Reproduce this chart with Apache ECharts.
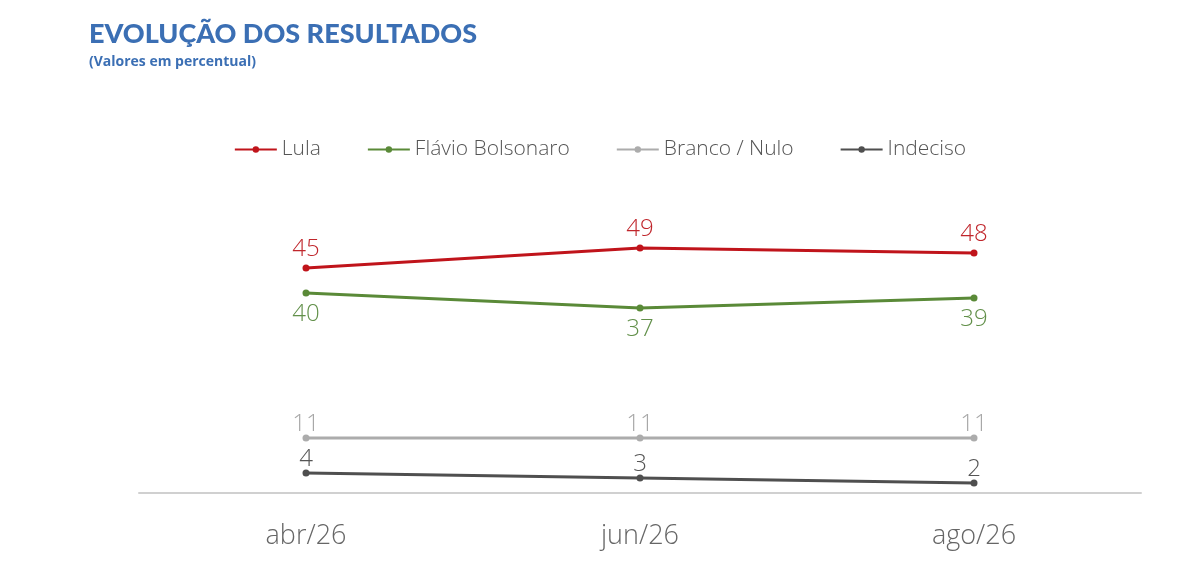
<!DOCTYPE html>
<html>
<head>
<meta charset="utf-8">
<script src="https://cdn.jsdelivr.net/npm/echarts@6/dist/echarts.min.js"></script>
<style>
  html, body { margin: 0; padding: 0; background: #fff; }
  #chart { width: 1200px; height: 587px; }
</style>
</head>
<body>
<div id="chart"></div>
<script>
// dados
const meses = ['abr/26', 'jun/26', 'ago/26'];
const lula = [45, 49, 48];
const flavio = [40, 37, 39];
const brancoNulo = [11, 11, 11];
const indeciso = [4, 3, 2];

const chart = echarts.init(document.getElementById('chart'));

function serie(name, data, color, labelColor, pos, dist) {
  return {
    name: name,
    type: 'line',
    data: data,
    symbol: 'circle',
    symbolSize: 7,
    lineStyle: { width: 3, color: color },
    itemStyle: { color: color },
    label: {
      show: true,
      position: pos,
      distance: dist,
      color: labelColor,
      fontSize: 24,
      fontFamily: 'Open Sans',
      fontWeight: 300
    }
  };
}

const option = {
  animation: false,
  backgroundColor: '#fff',
  title: {
    text: 'EVOLUÇÃO DOS RESULTADOS',
    subtext: '(Valores em percentual)',
    left: 84,
    top: 16,
    itemGap: 7,
    textStyle: { color: '#3b6fb4', fontSize: 27, fontWeight: 900, fontFamily: 'Lato' },
    subtextStyle: { color: '#3b6fb4', fontSize: 14, fontWeight: 'bold', fontFamily: 'Open Sans' }
  },
  legend: {
    top: 134,
    left: 'center',
    itemWidth: 42,
    itemHeight: 8,
    itemGap: 46,
    textStyle: { color: '#555', fontSize: 21, fontFamily: 'Open Sans', fontWeight: 300 },
    data: ['Lula', 'Flávio Bolsonaro', 'Branco / Nulo', 'Indeciso']
  },
  grid: { left: 139, right: 59, top: 193, bottom: 94 },
  xAxis: {
    type: 'category',
    data: meses,
    boundaryGap: true,
    axisLine: { lineStyle: { color: '#d0d0d0', width: 2 } },
    axisTick: { show: false },
    axisLabel: { color: '#666', fontSize: 27, fontFamily: 'Open Sans', fontWeight: 300, margin: 30 }
  },
  yAxis: {
    type: 'value',
    min: 0,
    max: 60,
    show: false,
    splitLine: { show: false }
  },
  series: [
    serie('Lula', lula, '#c0141b', '#c0262c', 'top', 3),
    serie('Flávio Bolsonaro', flavio, '#5a8a38', '#62904a', 'bottom', 6),
    serie('Branco / Nulo', brancoNulo, '#acacac', '#a8a8a8', 'top', -2),
    serie('Indeciso', indeciso, '#4f4f4f', '#555', 'top', -2)
  ]
};

chart.setOption(option);
</script>
</body>
</html>
